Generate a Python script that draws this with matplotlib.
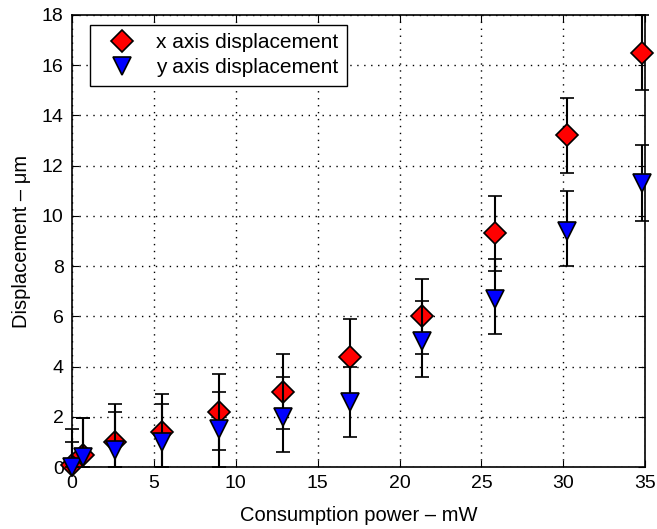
import numpy as np
import matplotlib.pyplot as plt

plt.rcParams['font.family'] = ['Liberation Sans', 'DejaVu Sans']

power = [0.0, 0.7, 2.6, 5.5, 9.0, 12.9, 17.0, 21.4, 25.8, 30.2, 34.8]

x_disp = [0.1, 0.5, 1.0, 1.4, 2.2, 3.0, 4.4, 6.0, 9.3, 13.2, 16.5]
x_low = [0.0, 0.0, 0.0, 0.0, 0.7, 1.5, 2.9, 4.5, 7.8, 11.7, 15.0]
x_high = [1.5, 1.95, 2.5, 2.9, 3.7, 4.5, 5.9, 7.5, 10.8, 14.7, 18.0]

y_disp = [0.0, 0.4, 0.7, 1.0, 1.5, 2.0, 2.6, 5.0, 6.7, 9.4, 11.3]
y_low = [0.0, 0.0, 0.0, 0.0, 0.0, 0.6, 1.2, 3.6, 5.3, 8.0, 9.8]
y_high = [1.0, 1.95, 2.2, 2.5, 3.0, 3.6, 4.0, 6.6, 8.3, 11.0, 12.8]

fig = plt.figure(figsize=(6.57, 5.29), dpi=100)
ax = fig.add_axes([0.1096, 0.117, 0.8724, 0.855])

xd = np.array(x_disp)
yd = np.array(y_disp)
xerr = [xd - np.array(x_low), np.array(x_high) - xd]
yerr = [yd - np.array(y_low), np.array(y_high) - yd]

ax.errorbar(power, x_disp, yerr=xerr, fmt='D', color='k', ecolor='k',
            mfc='red', mec='k', ms=11, mew=1.2, elinewidth=1.5, capsize=5,
            capthick=1.5, label='x axis displacement', clip_on=False, zorder=3)
ax.errorbar(power, y_disp, yerr=yerr, fmt='v', color='k', ecolor='k',
            mfc='blue', mec='k', ms=13.5, mew=1.2, elinewidth=1.5, capsize=5,
            capthick=1.5, label='y axis displacement', clip_on=False, zorder=4)

ax.set_xlim(0, 35)
ax.set_ylim(0, 18)
ax.set_xticks(np.arange(0, 36, 5))
ax.set_yticks(np.arange(0, 19, 2))
ax.grid(True, linestyle=(0, (1, 4)), color='k', linewidth=1)
ax.tick_params(direction='in', labelsize=14, top=True, right=True, length=5,
               pad=6)
for s in ax.spines.values():
    s.set_linewidth(1.2)

ax.set_xlabel('Consumption power \u2013 mW', fontsize=14.5, labelpad=10)
ax.set_ylabel('Displacement \u2013 \u03bcm', fontsize=14.5, labelpad=8)

handles, labels = ax.get_legend_handles_labels()
handles = [h[0] for h in handles]
ax.legend(handles, labels, loc='upper left', fontsize=15, frameon=True,
          fancybox=False, edgecolor='k', framealpha=1, borderpad=0.4,
          handletextpad=0.5, handlelength=2.3, labelspacing=0.3,
          borderaxespad=0, bbox_to_anchor=(0.031, 0.978))

fig.savefig('out.png', dpi=100)
